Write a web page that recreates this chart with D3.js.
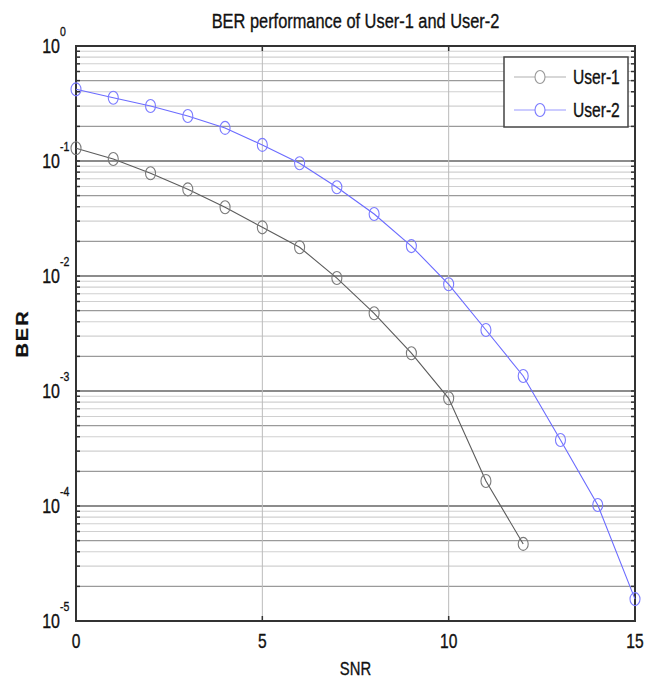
<!DOCTYPE html>
<meta charset='utf-8'>
<head>
    <title>BER performance</title>
    <script src='https://d3js.org/d3.v7.min.js'></script>
</head>

<style>
    body { margin: 0; background: white; }
    text { font-family: 'Liberation Sans', Arial, sans-serif; fill: #111; stroke: #111; stroke-width: 0.35px; }
</style>

<svg></svg>

<script>
    var vWidth = 657;
    var vHeight = 678;

    // values
    var snr = [0, 1, 2, 3, 4, 5, 6, 7, 8, 9, 10, 11, 12, 13, 14, 15];
    var user1 = [0.129, 0.104, 0.0782, 0.0567, 0.0396, 0.0265, 0.0178, 0.0096, 0.00474, 0.00213, 0.000864, 0.000165, 0.0000468];
    var user2 = [0.42, 0.355, 0.301, 0.246, 0.194, 0.138, 0.0955, 0.0591, 0.0346, 0.0182, 0.00847, 0.00339, 0.00135, 0.000375, 0.000102, 0.0000155];
    var xTicks = [0, 5, 10, 15];
    var yExps = [0, -1, -2, -3, -4, -5];
    var seriesNames = ['User-1', 'User-2'];

    var SX = 0.78; // the picture is squeezed sideways
    var m = {left: 76, right: 635, top: 46, bottom: 621};

    var svg = d3.select('svg').attr('width', vWidth).attr('height', vHeight);

    var x = d3.scaleLinear().domain([0, 15]).range([m.left, m.right]);
    var y = d3.scaleLog().domain([1e-5, 1]).range([m.bottom, m.top]);

    // squeezed text helper
    function label(g, tx, ty, str, size, anchor) {
        return g.append('text')
            .attr('transform', 'translate(' + tx + ',' + ty + ') scale(' + SX + ',1)')
            .attr('text-anchor', anchor || 'middle')
            .style('font-size', size + 'px')
            .text(str);
    }

    // horizontal grid, minor + major
    var minor = [];
    for (var e = -5; e < 0; e++) {
        for (var k = 1; k <= 9; k++) minor.push({v: k * Math.pow(10, e), k: k});
    }
    minor.push({v: 1, k: 1});

    var grid = svg.append('g');
    grid.selectAll('line.h').data(minor).enter().append('line')
        .attr('x1', m.left).attr('x2', m.right)
        .attr('y1', function (d) { return y(d.v); })
        .attr('y2', function (d) { return y(d.v); })
        .attr('stroke', function (d) { return d.k === 1 ? '#666' : (d.k === 2 || d.k === 5 ? '#9a9a9a' : '#d0d0d0'); })
        .attr('stroke-width', function (d) { return d.k === 1 ? 1.3 : 1.1; });

    grid.selectAll('line.v').data([5, 10]).enter().append('line')
        .attr('x1', function (d) { return x(d); }).attr('x2', function (d) { return x(d); })
        .attr('y1', m.top).attr('y2', m.bottom)
        .attr('stroke', '#bbb').attr('stroke-width', 1);

    // small ticks inside the box
    grid.selectAll('line.tl').data(minor).enter().append('line')
        .attr('x1', m.left).attr('x2', m.left + 4)
        .attr('y1', function (d) { return y(d.v); }).attr('y2', function (d) { return y(d.v); })
        .attr('stroke', '#333').attr('stroke-width', 1.5);
    grid.selectAll('line.tr').data(minor).enter().append('line')
        .attr('x1', m.right - 4).attr('x2', m.right)
        .attr('y1', function (d) { return y(d.v); }).attr('y2', function (d) { return y(d.v); })
        .attr('stroke', '#333').attr('stroke-width', 1.5);
    grid.selectAll('line.tb').data(xTicks).enter().append('line')
        .attr('x1', function (d) { return x(d); }).attr('x2', function (d) { return x(d); })
        .attr('y1', m.bottom - 5).attr('y2', m.bottom)
        .attr('stroke', '#333').attr('stroke-width', 1.5);
    grid.selectAll('line.tt').data(xTicks).enter().append('line')
        .attr('x1', function (d) { return x(d); }).attr('x2', function (d) { return x(d); })
        .attr('y1', m.top).attr('y2', m.top + 5)
        .attr('stroke', '#333').attr('stroke-width', 1.5);

    // box
    svg.append('rect')
        .attr('x', m.left).attr('y', m.top)
        .attr('width', m.right - m.left).attr('height', m.bottom - m.top)
        .attr('fill', 'none').attr('stroke', '#333').attr('stroke-width', 2);

    // series
    var colors = ['#5c5c5c', '#6b6bff'];
    var markerCol = ['#7a7a7a', '#7b7bff'];
    var data = [user1, user2];
    var line = d3.line()
        .x(function (d, i) { return x(snr[i]); })
        .y(function (d) { return y(d); });

    data.forEach(function (s, j) {
        svg.append('path').datum(s)
            .attr('d', line)
            .attr('fill', 'none').attr('stroke', colors[j]).attr('stroke-width', 1.1);
        svg.selectAll('ellipse.s' + j).data(s).enter().append('ellipse')
            .attr('cx', function (d, i) { return x(snr[i]); })
            .attr('cy', function (d) { return y(d); })
            .attr('rx', 5).attr('ry', 6.5)
            .attr('fill', 'none').attr('stroke', markerCol[j]).attr('stroke-width', 1.1);
    });

    // y tick labels, 10^n
    var ty = svg.append('g');
    yExps.forEach(function (p) {
        var yy = y(Math.pow(10, p));
        label(ty, 60, yy + 7, '10', 20.5, 'end');
        label(ty, 60, yy - 10, String(p), 13.5, 'start');
    });

    // x tick labels
    xTicks.forEach(function (t) {
        label(svg, x(t), 648, String(t), 20);
    });

    // titles
    label(svg, (m.left + m.right) / 2, 28, 'BER performance of User-1 and User-2', 21);
    label(svg, (m.left + m.right) / 2, 675, 'SNR', 19);
    svg.append('text')
        .attr('transform', 'translate(28,' + ((m.top + m.bottom) / 2) + ') rotate(-90) scale(1,' + SX + ')')
        .attr('text-anchor', 'middle')
        .style('font-size', '20px').style('font-weight', 'bold')
        .attr('letter-spacing', 2)
        .text('BER');

    // legend
    var lg = svg.append('g');
    lg.append('rect')
        .attr('x', 504).attr('y', 57).attr('width', 124).attr('height', 70)
        .attr('fill', 'white').attr('stroke', '#444').attr('stroke-width', 1.5);
    seriesNames.forEach(function (n, j) {
        var ly = 77 + j * 33;
        lg.append('line')
            .attr('x1', 514).attr('x2', 566).attr('y1', ly).attr('y2', ly)
            .attr('stroke', j === 0 ? '#b0b0b0' : '#9a9aff').attr('stroke-width', 1.2);
        lg.append('ellipse')
            .attr('cx', 540).attr('cy', ly).attr('rx', 5).attr('ry', 6.5)
            .attr('fill', 'white').attr('stroke', j === 0 ? '#999' : '#7b7bff').attr('stroke-width', 1.1);
        label(lg, 573, ly + 7, n, 20, 'start');
    });
</script>
